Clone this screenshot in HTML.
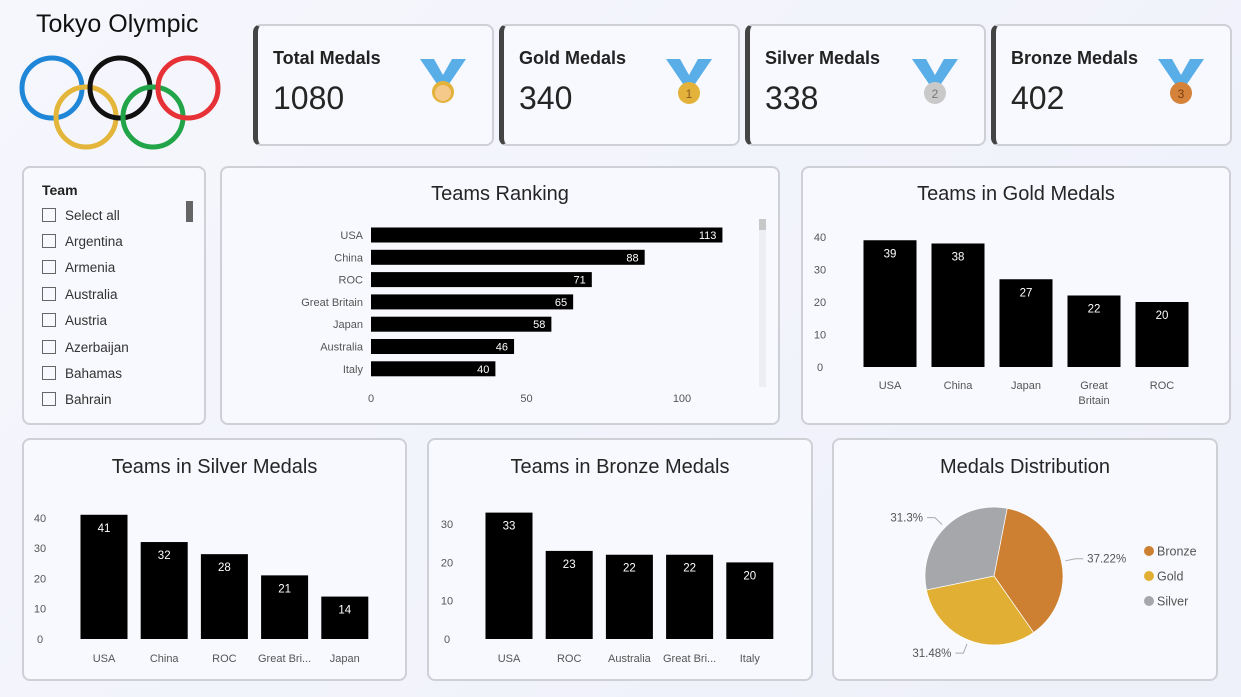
<!DOCTYPE html>
<html><head><meta charset="utf-8">
<style>
*{box-sizing:border-box;margin:0;padding:0}
body{width:1241px;height:697px;overflow:hidden;background:linear-gradient(135deg,#f6f7fd,#eef0fa);font-family:"Liberation Sans","DejaVu Sans",sans-serif;color:#222;position:relative}
.card{position:absolute;background:#f8f9fe;border:2px solid #cfd0d6;border-radius:8px}
.kpi{border-left:5px solid #444}
.kpi .t{position:absolute;left:15px;top:22px;font-size:18px;font-weight:bold;color:#222}
.kpi .v{position:absolute;left:15px;top:54px;font-size:32px;color:#252525}
.kpi svg{position:absolute;right:26px;top:30px}
.ctitle{position:absolute;width:100%;text-align:center;font-size:20px;color:#252525}
.slicer .item{position:absolute;left:18px;font-size:13.5px;color:#333}
.slicer .item span{display:inline-block;width:14px;height:14px;border:1px solid #666;vertical-align:-2px;margin-right:9px}
svg text{font-family:"Liberation Sans","DejaVu Sans",sans-serif}
</style></head><body>
<div style="position:absolute;left:36px;top:10px;font-size:25px;color:#111">Tokyo Olympic</div>
<svg style="position:absolute;left:0;top:0" width="240" height="160">
<g fill="none" stroke-width="5">
<circle cx="52" cy="88" r="30" stroke="#1f86d8"/>
<circle cx="86" cy="117" r="30" stroke="#e3b53a"/>
<circle cx="120" cy="88" r="30" stroke="#111"/>
<circle cx="153" cy="117" r="30" stroke="#21a548"/>
<circle cx="188" cy="88" r="30" stroke="#e63236"/>
</g></svg>

<div class="card kpi" style="left:253px;top:24px;width:241px;height:122px"><div class="t">Total Medals</div><div class="v">1080</div>
<svg width="46" height="48"><path d="M0 3h14l9 16 9-16h14l-17 25h-12z" fill="#5aaee8"/><circle cx="23" cy="36" r="11" fill="#e2b23a"/><circle cx="23" cy="37" r="8" fill="#f4c98a"/></svg></div>
<div class="card kpi" style="left:499px;top:24px;width:241px;height:122px"><div class="t">Gold Medals</div><div class="v">340</div>
<svg width="46" height="48"><path d="M0 3h14l9 16 9-16h14l-17 25h-12z" fill="#5aaee8"/><circle cx="23" cy="37" r="11" fill="#e2b23a"/><text x="23" y="42" font-size="12" text-anchor="middle" fill="#8a5a20">1</text></svg></div>
<div class="card kpi" style="left:745px;top:24px;width:241px;height:122px"><div class="t">Silver Medals</div><div class="v">338</div>
<svg width="46" height="48"><path d="M0 3h14l9 16 9-16h14l-17 25h-12z" fill="#5aaee8"/><circle cx="23" cy="37" r="11" fill="#c9c9c9"/><text x="23" y="42" font-size="12" text-anchor="middle" fill="#777">2</text></svg></div>
<div class="card kpi" style="left:991px;top:24px;width:241px;height:122px"><div class="t">Bronze Medals</div><div class="v">402</div>
<svg width="46" height="48"><path d="M0 3h14l9 16 9-16h14l-17 25h-12z" fill="#5aaee8"/><circle cx="23" cy="37" r="11" fill="#d5823a"/><text x="23" y="42" font-size="12" text-anchor="middle" fill="#7a3a10">3</text></svg></div>

<div class="card slicer" style="left:22px;top:166px;width:184px;height:259px">
<div style="position:absolute;left:18px;top:14px;font-size:14px;font-weight:bold">Team</div>
<div style="position:absolute;left:162px;top:33px;width:7px;height:21px;background:#666"></div>
<div class="item" style="top:40px"><span></span>Select all</div>
<div class="item" style="top:66px"><span></span>Argentina</div>
<div class="item" style="top:92px"><span></span>Armenia</div>
<div class="item" style="top:119px"><span></span>Australia</div>
<div class="item" style="top:145px"><span></span>Austria</div>
<div class="item" style="top:172px"><span></span>Azerbaijan</div>
<div class="item" style="top:198px"><span></span>Bahamas</div>
<div class="item" style="top:224px"><span></span>Bahrain</div>
</div>

<div class="card" style="left:220px;top:166px;width:560px;height:259px"><div class="ctitle" style="top:15px">Teams Ranking</div></div>
<div class="card" style="left:801px;top:166px;width:430px;height:259px"><div class="ctitle" style="top:15px">Teams in Gold Medals</div></div>
<div class="card" style="left:22px;top:438px;width:385px;height:243px"><div class="ctitle" style="top:16px">Teams in Silver Medals</div></div>
<div class="card" style="left:427px;top:438px;width:386px;height:243px"><div class="ctitle" style="top:16px">Teams in Bronze Medals</div></div>
<div class="card" style="left:832px;top:438px;width:386px;height:243px"><div class="ctitle" style="top:16px">Medals Distribution</div></div>

<svg id="charts" style="position:absolute;left:0;top:0" width="1241" height="697"></svg>

<script>
const rankTeams=["USA","China","ROC","Great Britain","Japan","Australia","Italy"];
const rankValues=[113,88,71,65,58,46,40];
const rankTicks=[0,50,100];
const goldTeams=["USA","China","Japan","Great|Britain","ROC"];
const goldValues=[39,38,27,22,20];
const goldTicks=[0,10,20,30,40];
const silverTeams=["USA","China","ROC","Great Bri...","Japan"];
const silverValues=[41,32,28,21,14];
const silverTicks=[0,10,20,30,40];
const bronzeTeams=["USA","ROC","Australia","Great Bri...","Italy"];
const bronzeValues=[33,23,22,22,20];
const bronzeTicks=[0,10,20,30];
const pieLabels=["Bronze","Gold","Silver"];
const pieValues=[402,340,338];

const svg=document.getElementById('charts');
const NS='http://www.w3.org/2000/svg';
function mk(tag,attrs,txt){const e=document.createElementNS(NS,tag);for(const k in attrs)e.setAttribute(k,attrs[k]);if(txt!==undefined)e.textContent=txt;svg.appendChild(e);return e;}

// Ranking (horizontal)
const rx=v=>371+v*3.11;
rankTicks.forEach(t=>{const e=mk('text',{x:rx(t),y:402,'font-size':11,fill:'#555','text-anchor':'middle'},t);

});
rankTeams.forEach((n,i)=>{const cy=235+i*22.3;
const b=mk('rect',{x:rx(0),y:cy-7.5,width:rx(rankValues[i])-rx(0),height:15,fill:'#000'});


const l=mk('text',{x:363,y:cy+4,'font-size':11,fill:'#555','text-anchor':'end'},n);


const v=mk('text',{x:rx(rankValues[i])-6,y:cy+4,'font-size':11,fill:'#fff','text-anchor':'end'},rankValues[i]);

});
const sb=mk('rect',{x:759,y:219,width:7,height:168,fill:'#eceef3'});


const sbt=mk('rect',{x:759,y:219,width:7,height:11,fill:'#c8c8c8'});



// vertical bar chart helper
function vbar(prefix,teams,vals,ticks,y0,scale,x0,step,bw,tickX,labY){
 const y=v=>y0-v*scale;
 ticks.forEach(t=>{const e=mk('text',{x:tickX,y:y(t)+4,'font-size':11,fill:'#555','text-anchor':'middle'},t);
 
 });
 teams.forEach((n,i)=>{const cx=x0+i*step;
 const b=mk('rect',{x:cx-bw/2,y:y(vals[i]),width:bw,height:y0-y(vals[i]),fill:'#000'});
 
 
 const v=mk('text',{x:cx,y:y(vals[i])+17,'font-size':11.5,fill:'#fff','text-anchor':'middle'},vals[i]);
 
 
 n.split('|').forEach((p,j)=>{const l=mk('text',{x:cx,y:labY+j*15,'font-size':11,fill:'#555','text-anchor':'middle'},p);
 
 });});
}
vbar('gold',goldTeams,goldValues,goldTicks,367,3.25,890,68,53,820,389);
vbar('silver',silverTeams,silverValues,silverTicks,639,3.03,104,60.2,47,40,662);
vbar('bronze',bronzeTeams,bronzeValues,bronzeTicks,639,3.83,509,60.2,47,447,662);

// Pie
const pcx=994,pcy=576,pr=69;
const pieColors=["#cd7f32","#e0af33","#a6a7ab"];
const total=pieValues.reduce((a,b)=>a+b,0);
let ang=11;
const pt=(a,r)=>[pcx+r*Math.sin(a*Math.PI/180),pcy-r*Math.cos(a*Math.PI/180)];
pieValues.forEach((v,i)=>{const sw=v/total*360;const a1=ang,a2=ang+sw;
 const p1=pt(a1,pr),p2=pt(a2,pr);
 const s=mk('path',{d:`M${pcx},${pcy}L${p1[0]},${p1[1]}A${pr},${pr} 0 ${sw>180?1:0} 1 ${p2[0]},${p2[1]}Z`,fill:pieColors[i],stroke:'#fff','stroke-width':0.7});
 
 
 const mid=(a1+a2)/2;const q=pt(mid,pr+4),q2=pt(mid,pr+14);
 const right=q2[0]>pcx;const ex=q2[0]+(right?8:-8);
 const ln=mk('polyline',{points:`${q[0]},${q[1]} ${q2[0]},${q2[1]} ${ex},${q2[1]}`,fill:'none',stroke:'#aaa'});
 
 
 const pct=(Math.round(v/total*10000)/100)+'%';
 const t=mk('text',{x:ex+(right?4:-4),y:q2[1]+4,'font-size':11.5,fill:'#555','text-anchor':right?'start':'end'},pct);
 
 
 ang=a2;});
pieLabels.forEach((n,i)=>{const y=551+i*25;
 const c=mk('circle',{cx:1149,cy:y,r:5,fill:pieColors[i]});
 
 
 const t=mk('text',{x:1157,y:y+4.5,'font-size':12.5,fill:'#555'},n);
 
 });
</script>
</body></html>
